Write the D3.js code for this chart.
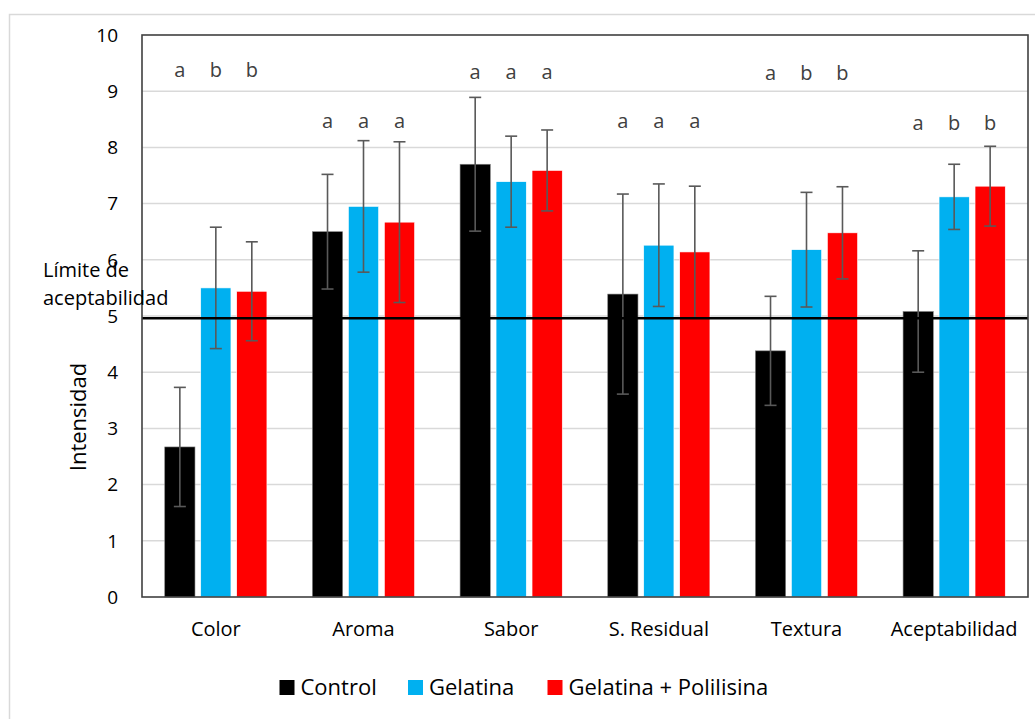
<!DOCTYPE html>
<html>
<head>
<meta charset="utf-8">
<script src="https://cdn.jsdelivr.net/npm/d3@7"></script>
<style>
  body { margin: 0; background: #fff; }
  text { font-family: "Open Sans", sans-serif; }
</style>
</head>
<body>
<div id="canvas"></div>
<script>
var width = 1035;
var height = 719;

// data
var categories = ["Color", "Aroma", "Sabor", "S. Residual", "Textura", "Aceptabilidad"];
var series = ["Control", "Gelatina", "Gelatina + Polilisina"];
var colors = ["#000000", "#00b0f0", "#ff0000"];

var control  = [2.67, 6.50, 7.70, 5.39, 4.38, 5.08];
var gelatina = [5.50, 6.95, 7.39, 6.26, 6.18, 7.12];
var polilis  = [5.44, 6.67, 7.59, 6.14, 6.48, 7.31];

var controlErr  = [1.06, 1.02, 1.19, 1.78, 0.97, 1.08];
var gelatinaErr = [1.08, 1.17, 0.81, 1.09, 1.02, 0.58];
var polilisErr  = [0.88, 1.43, 0.72, 1.17, 0.82, 0.71];

var letters = [["a","b","b"], ["a","a","a"], ["a","a","a"], ["a","a","a"], ["a","b","b"], ["a","b","b"]];
var letterLevel = [9.38, 8.47, 9.34, 8.47, 9.32, 8.43];

var limite = 4.96;
var yTicks = [0, 1, 2, 3, 4, 5, 6, 7, 8, 9, 10];

var values = [control, gelatina, polilis];
var errors = [controlErr, gelatinaErr, polilisErr];

var margin = {left: 142, right: 1028, top: 35, bottom: 597};

var svg = d3.select("#canvas").append("svg")
    .attr("width", width)
    .attr("height", height);

// outer chart frame
svg.append("rect")
    .attr("x", 9.5).attr("y", 14.5)
    .attr("width", width + 10).attr("height", height + 10)
    .attr("fill", "none")
    .attr("stroke", "#d9d9d9")
    .attr("stroke-width", 1.5);

var y = d3.scaleLinear().domain([0, 10]).range([margin.bottom, margin.top]);
var x0 = d3.scaleBand().domain(categories).range([margin.left, margin.right]).paddingInner(0).paddingOuter(0);
var x1 = d3.scaleBand().domain(series).range([x0.bandwidth() * 0.154, x0.bandwidth() * 0.846]).paddingInner(0.16);

// gridlines
svg.append("g").selectAll("line")
    .data(yTicks.filter(function(d) { return d > 0 && d < 10; }))
    .enter().append("line")
    .attr("x1", margin.left).attr("x2", margin.right)
    .attr("y1", function(d) { return y(d); })
    .attr("y2", function(d) { return y(d); })
    .attr("stroke", "#d9d9d9")
    .attr("stroke-width", 1.5);

// y tick labels
svg.append("g").selectAll("text")
    .data(yTicks)
    .enter().append("text")
    .attr("x", 118)
    .attr("y", function(d) { return y(d); })
    .attr("dy", "0.36em")
    .attr("text-anchor", "end")
    .attr("font-size", 19)
    .attr("fill", "#000")
    .text(function(d) { return d; });

// bars
var groups = svg.append("g").selectAll("g")
    .data(categories)
    .enter().append("g")
    .attr("transform", function(d) { return "translate(" + x0(d) + ",0)"; });

function rows(d, i) {
  return series.map(function(s, j) { return {s: s, j: j, v: values[j][i], e: errors[j][i]}; });
}

groups.selectAll("rect")
    .data(rows)
    .enter().append("rect")
    .attr("x", function(d) { return x1(d.s); })
    .attr("y", function(d) { return y(d.v); })
    .attr("width", x1.bandwidth())
    .attr("height", function(d) { return y(0) - y(d.v); })
    .attr("fill", function(d) { return colors[d.j]; })
    .attr("stroke", function(d) { return d.j == 0 ? "#7f7f7f" : "#ffffff"; })
    .attr("stroke-width", 0.6);

// acceptability limit line
svg.append("line")
    .attr("x1", margin.left).attr("x2", margin.right)
    .attr("y1", y(limite)).attr("y2", y(limite))
    .attr("stroke", "#000")
    .attr("stroke-width", 2.5);

// error bars
var eb = groups.selectAll("g.err")
    .data(rows)
    .enter().append("g")
    .attr("class", "err")
    .attr("stroke", "#595959")
    .attr("stroke-width", 1.6);

eb.append("line")
    .attr("x1", function(d) { return x1(d.s) + x1.bandwidth() / 2; })
    .attr("x2", function(d) { return x1(d.s) + x1.bandwidth() / 2; })
    .attr("y1", function(d) { return y(d.v + d.e); })
    .attr("y2", function(d) { return y(d.v - d.e); });
[1, -1].forEach(function(sign) {
  eb.append("line")
    .attr("x1", function(d) { return x1(d.s) + x1.bandwidth() / 2 - 6; })
    .attr("x2", function(d) { return x1(d.s) + x1.bandwidth() / 2 + 6; })
    .attr("y1", function(d) { return y(d.v + sign * d.e); })
    .attr("y2", function(d) { return y(d.v + sign * d.e); });
});

// significance letters
groups.selectAll("text.letter")
    .data(function(d, i) { return series.map(function(s, j) { return {s: s, t: letters[i][j], lv: letterLevel[i]}; }); })
    .enter().append("text")
    .attr("class", "letter")
    .attr("x", function(d) { return x1(d.s) + x1.bandwidth() / 2; })
    .attr("y", function(d) { return y(d.lv); })
    .attr("dy", "0.36em")
    .attr("text-anchor", "middle")
    .attr("font-size", 20)
    .attr("fill", "#404040")
    .text(function(d) { return d.t; });

// plot frame
svg.append("rect")
    .attr("x", margin.left).attr("y", margin.top)
    .attr("width", margin.right - margin.left)
    .attr("height", margin.bottom - margin.top)
    .attr("fill", "none")
    .attr("stroke", "#404040")
    .attr("stroke-width", 1.6);

// category labels
svg.append("g").selectAll("text")
    .data(categories)
    .enter().append("text")
    .attr("x", function(d) { return x0(d) + x0.bandwidth() / 2; })
    .attr("y", 636)
    .attr("text-anchor", "middle")
    .attr("font-size", 20)
    .attr("fill", "#000")
    .text(function(d) { return d; });

// y axis title
svg.append("text")
    .attr("transform", "translate(78,417) rotate(-90)")
    .attr("dy", "0.36em")
    .attr("text-anchor", "middle")
    .attr("font-size", 22)
    .attr("fill", "#000")
    .text("Intensidad");

// limit label
svg.append("text")
    .attr("x", 43).attr("y", 277)
    .attr("font-size", 20)
    .attr("fill", "#000")
    .text("Límite de");
svg.append("text")
    .attr("x", 43).attr("y", 305)
    .attr("font-size", 20)
    .attr("fill", "#000")
    .text("aceptabilidad");

// legend
var legendX = [279.5, 408, 547.5];
var legend = svg.append("g").selectAll("g")
    .data(series)
    .enter().append("g")
    .attr("transform", function(d, i) { return "translate(" + legendX[i] + ",695)"; });
legend.append("rect")
    .attr("x", 0).attr("y", -15)
    .attr("width", 15).attr("height", 15)
    .attr("fill", function(d, i) { return colors[i]; });
legend.append("text")
    .attr("x", 21).attr("y", 0)
    .attr("font-size", 22)
    .attr("fill", "#000")
    .text(function(d) { return d; });
</script>
</body>
</html>
